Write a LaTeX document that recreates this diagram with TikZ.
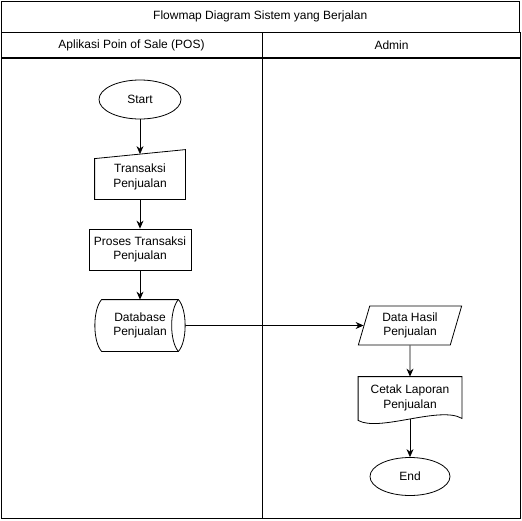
\documentclass[tikz,border=0pt]{standalone}
\usepackage{fontspec}
\setmainfont{Liberation Sans}
\usepackage{tikz}
\usetikzlibrary{calc,positioning,shapes,arrows.meta}

\tikzset{
	every node/.style={font=\fontsize{12}{14.4}\selectfont, align=center, inner sep=0pt},
	arus/.style={-{Stealth[length=8pt,width=7pt]}},
}

\begin{document}
\begin{tikzpicture}[x=1pt,y=-1pt,line width=0.8pt]
		\useasboundingbox (0,0) rectangle (522,520);
		\node(judul) [draw, minimum width=518.5pt, minimum height=31pt] at (260.25,16.5) {Flowmap Diagram Sistem yang Berjalan};
		\node(kol1) [draw, anchor=north west, minimum width=261pt, minimum height=25pt] at (judul.south west) {Aplikasi Poin of Sale (POS)};
		\node(kol2) [draw, anchor=north west, minimum width=257.5pt, minimum height=25pt] at (kol1.north east) {Admin};
		\node(lajur1) [draw, anchor=north west, minimum width=261pt, minimum height=460pt] at (kol1.south west) {};
		\node(lajur2) [draw, anchor=north west, minimum width=257.5pt, minimum height=460pt] at (kol2.south west) {};
		\node(start) [draw, ellipse, minimum width=82pt, minimum height=39pt] at (140,99.5) {Start};
		\node(input) [minimum width=90pt, minimum height=44.5pt] at (140,176.75) {Transaksi\\Penjualan};
		\draw ($(input.north west)+(0,4.5)$) -- ($(input.north east)+(0,-4.5)$) -- (input.south east) -- (input.south west) -- cycle;
		\node(proses) [draw, minimum width=102pt, minimum height=41pt] at (140,249.5) {Proses Transaksi\\Penjualan};
		\node(db) [minimum width=90pt, minimum height=51pt] at (140,325.5) {Database\\Penjualan};
		\draw ($(db.north west)+(7,0)$) -- ($(db.north east)+(-7,0)$)
			.. controls ($(db.north east)+(2,10)$) and ($(db.south east)+(2,-10)$) .. ($(db.south east)+(-7,0)$)
			-- ($(db.south west)+(7,0)$)
			.. controls ($(db.south west)+(-2,-10)$) and ($(db.north west)+(-2,10)$) .. ($(db.north west)+(7,0)$) -- cycle;
		\draw ($(db.north east)+(-7,0)$) .. controls ($(db.north east)+(-16,10)$) and ($(db.south east)+(-16,-10)$) .. ($(db.south east)+(-7,0)$);
		\node(hasil) [draw, trapezium, trapezium left angle=73, trapezium right angle=107, trapezium stretches, minimum width=104pt, minimum height=39pt] at (410,325.5) {Data Hasil\\Penjualan};
		\node(cetak) [minimum width=103pt, minimum height=42pt] at (410,398) {Cetak Laporan\\Penjualan};
		\draw ($(cetak.south west)+(0,1)$) -- (cetak.north west) -- (cetak.north east) -- ($(cetak.south east)+(0,-1)$)
			.. controls ($(cetak.south east)+(-22,-14)$) and ($(cetak.south west)+(21,13)$) .. ($(cetak.south west)+(0,1)$) -- cycle;
		\node(stop) [draw, ellipse, minimum width=80pt, minimum height=38pt] at (410,476.5) {End};
		\path[arus]
			(start) edge (input)
			(input) edge (proses)
			(proses) edge (db)
			(db) edge (hasil)
			(hasil) edge (cetak)
			(cetak) edge (stop);
	\end{tikzpicture}
\end{document}
